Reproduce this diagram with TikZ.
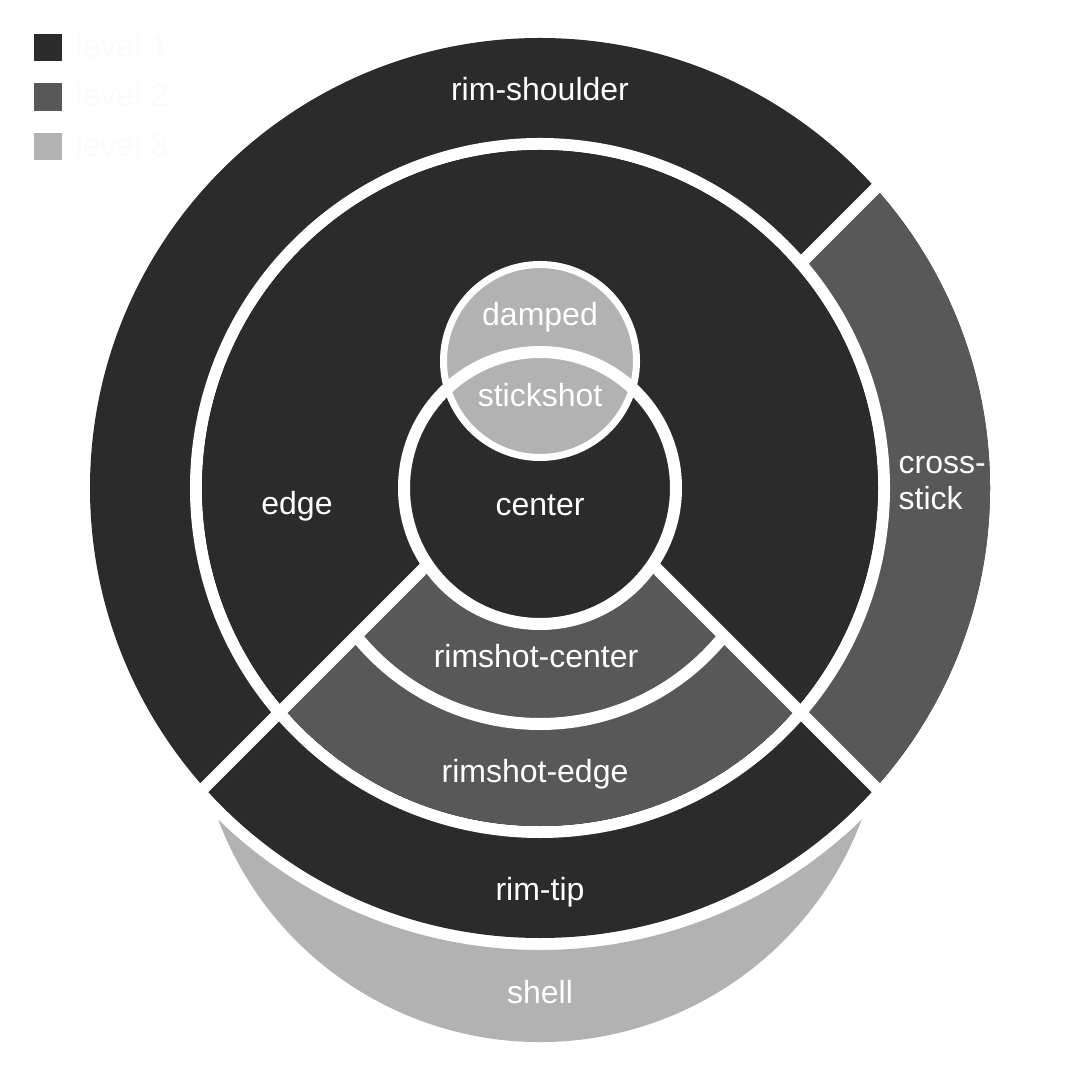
\documentclass[tikz,border=0pt]{standalone}
\usepackage{fontspec}
\setmainfont{Liberation Sans}
\usepackage{xcolor}
\definecolor{zonedark}{HTML}{2B2B2B}
\definecolor{zonemid}{HTML}{585858}
\definecolor{zonelight}{HTML}{B2B2B2}
\tikzset{
	zone/.style={text=white, anchor=mid, inner sep=0pt, font=\fontsize{9.1}{10.25}\selectfont},
	key/.style={text=white!98.5!black, anchor=mid west, inner sep=0pt, font=\fontsize{9.1}{10.25}\selectfont},
	gap/.style={draw=white, line width=1.2mm},
	thingap/.style={draw=white, line width=0.7mm}
}

\begin{document}
\begin{tikzpicture}[x=0.01cm, y=0.01cm]
	\useasboundingbox (-540,-592) rectangle (540,488);
	\coordinate (rimapex) at (0,36);
	\coordinate (crossapex) at (36,0);

	% legend
	\fill[zonedark]  (-506,427) rectangle (-478,454);
	\fill[zonemid]   (-506,377) rectangle (-478,405);
	\fill[zonelight] (-506,328) rectangle (-478,355);
	\node[key] (keyone)   at (-465,440) {level 1};
	\node[key] (keytwo)   at (-465,391) {level 2};
	\node[key] (keythree) at (-465,341) {level 3};

	% shell
	\fill[zonelight] (-321.9,-331.4) arc[start angle=-159.34, end angle=-20.66, radius=344]
		arc[start angle=-45.83, end angle=-134.17, radius=462] -- cycle;

	% rim
	\fill[zonedark] (0,0) circle (450);
	\begin{scope}
		\clip (0,0) circle (450);
		\fill[zonemid] (crossapex) -- (536,500) -- (536,-500) -- cycle;
	\end{scope}
	\draw[gap] (crossapex) -- (345,309);
	\draw[gap] (0,0) circle (344);

	% head
	\fill[zonedark] (0,0) circle (338);
	\begin{scope}
		\clip (0,0) circle (338);
		\fill[zonemid] (rimapex) -- (-600,-564) -- (600,-564) -- cycle;
		\clip (rimapex) -- (-600,-564) -- (600,-564) -- cycle;
		\draw[gap] (0,0) circle (236);
	\end{scope}
	\draw[gap] (rimapex) -- (-345,-309);
	\draw[gap] (rimapex) -- (345,-309);

	\draw[gap, fill=zonedark] (0,0) circle (136);
	\fill[zonelight] (0,127) circle (96.5);
	\begin{scope}
		\clip (0,127) circle (96.5);
		\draw[gap] (0,0) circle (136);
	\end{scope}
	\draw[thingap] (0,127) circle (96.5);

	% labels
	\node[zone] (rimshoulder)   at (0,397)    {rim-shoulder};
	\node[zone] (damped)        at (0,172)    {damped};
	\node[zone] (stickshot)     at (0,91)     {stickshot};
	\node[zone] (center)        at (0,-18)    {center};
	\node[zone] (edge)          at (-243,-17) {edge};
	\node[zone, anchor=west, align=left] (crossstick) at (358,5) {cross-\\stick};
	\node[zone] (rimshotcenter) at (-4,-170)  {rimshot-center};
	\node[zone] (rimshotedge)   at (-5,-285)  {rimshot-edge};
	\node[zone] (rimtip)        at (0,-403)   {rim-tip};
	\node[zone] (shell)         at (0,-506)   {shell};
\end{tikzpicture}
\end{document}
